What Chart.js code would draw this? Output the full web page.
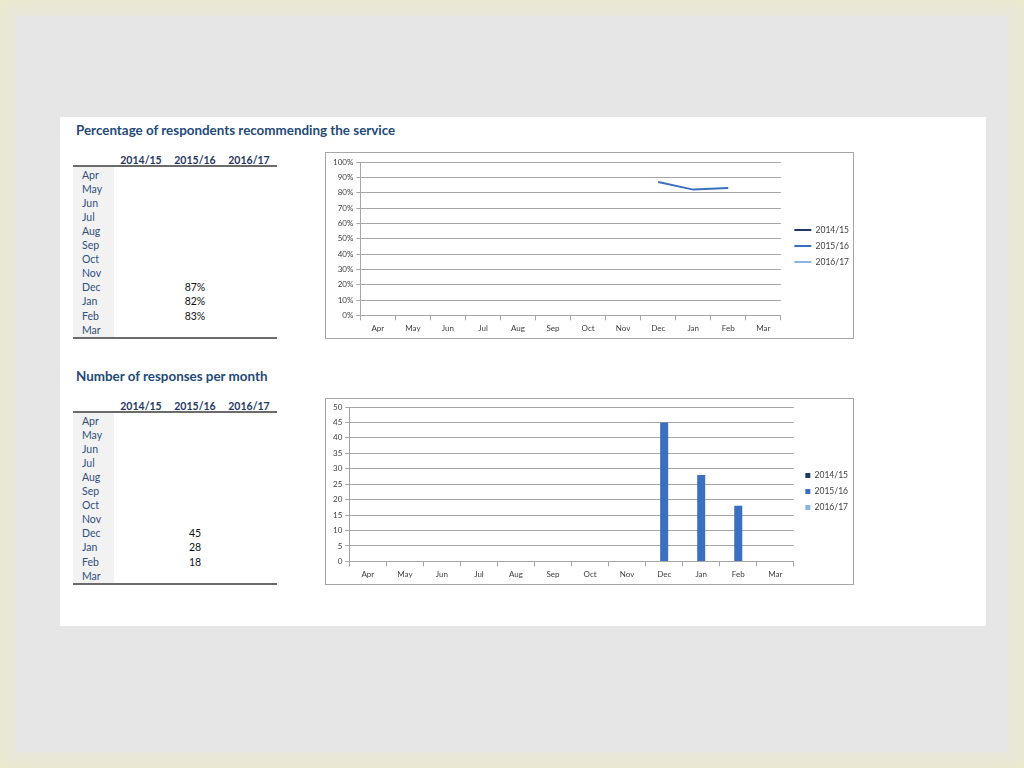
<!DOCTYPE html>
<html>
<head>
<meta charset="utf-8">
<script src="https://cdn.jsdelivr.net/npm/chart.js@4/dist/chart.umd.min.js"></script>
<style>
	body { margin: 0; width: 1024px; height: 768px; overflow: hidden; position: relative; background: #ece9cd; font-family: Lato, "Open Sans", sans-serif; }
	#bg { position: absolute; left: 16px; top: 16px; right: 16px; bottom: 16px; background: #e6e6e6; box-shadow: 0 0 18px 12px #e8e7dc; }
	#panel { position: absolute; left: 60px; top: 117px; width: 926px; height: 509px; background: #fff; }
	.title { position: absolute; left: 76px; font-weight: bold; font-size: 13.4px; color: #244a7a; line-height: 16px; }
	.txt { position: absolute; font-size: 10.5px; line-height: 14px; white-space: nowrap; }
	.hdr { font-weight: bold; color: #1f3864; width: 54px; text-align: center; }
	.mon { color: #2f4f7f; }
	.val { color: #111; width: 54px; text-align: center; }
	.rule { position: absolute; left: 73px; width: 204px; height: 2px; background: #6b6b6b; }
	.shade { position: absolute; left: 73px; width: 41px; background: #f2f2f2; }
	.box { position: absolute; left: 325px; width: 529px; height: 187px; border: 1px solid #a6a6a6; box-sizing: border-box; background: #fff; }
</style>
</head>
<body>
<div id="bg"></div>
<div id="panel"></div>
<div class="title" style="top: 122px;">Percentage of respondents recommending the service</div>
<div class="title" style="top: 368px;">Number of responses per month</div>
<div id="tables"></div>
<div class="box" style="top: 152px;"><canvas id="pctChart"></canvas></div>
<div class="box" style="top: 398px;"><canvas id="respChart"></canvas></div>
<script type="text/javascript">
	var months = ['Apr', 'May', 'Jun', 'Jul', 'Aug', 'Sep', 'Oct', 'Nov', 'Dec', 'Jan', 'Feb', 'Mar'];
	var years = ['2014/15', '2015/16', '2016/17'];

	// percentage recommending
	var pct1415 = [null, null, null, null, null, null, null, null, null, null, null, null];
	var pct1516 = [null, null, null, null, null, null, null, null, 87, 82, 83, null];
	var pct1617 = [null, null, null, null, null, null, null, null, null, null, null, null];

	// responses per month
	var resp1415 = [null, null, null, null, null, null, null, null, null, null, null, null];
	var resp1516 = [null, null, null, null, null, null, null, null, 45, 28, 18, null];
	var resp1617 = [null, null, null, null, null, null, null, null, null, null, null, null];

	var pctTicks = [0, 10, 20, 30, 40, 50, 60, 70, 80, 90, 100];
	var respTicks = [0, 5, 10, 15, 20, 25, 30, 35, 40, 45, 50];

	var colors = { y1415: '#1f3864', y1516: '#3b6fc0', y1617: '#8db3e2' };

	function makeTable(top, series, suffix) {
		var host = document.getElementById('tables');
		var html = '';
		var headY = top;
		var ruleY = headY + 5;
		var rowStep = 14.1;
		var firstRow = ruleY + 9.5;
		var bottomY = firstRow + rowStep * 11 + 7.5;
		html += '<div class="rule" style="top:' + ruleY + 'px"></div>';
		html += '<div class="shade" style="top:' + (ruleY + 2) + 'px;height:' + (bottomY - ruleY - 2) + 'px"></div>';
		html += '<div class="rule" style="top:' + bottomY + 'px"></div>';
		for (var c = 0; c < years.length; c++) {
			html += '<div class="txt hdr" style="left:' + (114 + c * 54) + 'px;top:' + (headY - 7) + 'px">' + years[c] + '</div>';
		}
		for (var r = 0; r < months.length; r++) {
			var y = firstRow + r * rowStep - 7;
			html += '<div class="txt mon" style="left:82px;top:' + y + 'px">' + months[r] + '</div>';
			for (var s = 0; s < series.length; s++) {
				if (series[s][r] !== null) {
					html += '<div class="txt val" style="left:' + (114 + s * 54) + 'px;top:' + y + 'px">' + series[s][r] + suffix + '</div>';
				}
			}
		}
		host.innerHTML += html;
	}

	makeTable(160, [pct1415, pct1516, pct1617], '%');
	makeTable(406, [resp1415, resp1516, resp1617], '');

	var tickFont = { family: 'Lato, "Open Sans", sans-serif', size: 8 };
	var legendFont = { family: 'Lato, "Open Sans", sans-serif', size: 8.5 };
	var gridColor = '#a6a6a6';

	// nudge the legend a little away from the plot, like the spreadsheet does
	function legendNudge(dx, dy) {
		return {
			id: 'legendNudge',
			afterLayout: function(chart) {
				chart.legend.left += dx;
				chart.legend.right += dx;
				chart.legend.top += dy;
				chart.legend.bottom += dy;
			}
		};
	}

	new Chart(document.getElementById('pctChart'), {
		type: 'line',
		data: {
			labels: months,
			datasets: [
				{ label: years[0], data: pct1415, borderColor: colors.y1415, backgroundColor: colors.y1415, borderWidth: 2, pointRadius: 0 },
				{ label: years[1], data: pct1516, borderColor: colors.y1516, backgroundColor: colors.y1516, borderWidth: 2, pointRadius: 0 },
				{ label: years[2], data: pct1617, borderColor: colors.y1617, backgroundColor: colors.y1617, borderWidth: 2, pointRadius: 0 }
			]
		},
		options: {
			responsive: true,
			maintainAspectRatio: false,
			animation: false,
			layout: { padding: { left: 4, right: 0, top: 9, bottom: 2 } },
			plugins: {
				legend: {
					position: 'right',
					labels: { usePointStyle: true, pointStyle: 'line', pointStyleWidth: 17, boxHeight: 9, padding: 7.5, color: '#404040', font: legendFont }
				},
				tooltip: { enabled: false }
			},
			scales: {
				x: {
					offset: true,
					grid: { offset: true, drawOnChartArea: false, tickLength: 5, color: gridColor },
					border: { color: gridColor },
					ticks: { font: tickFont, color: '#404040', maxRotation: 0, autoSkip: false, padding: 3 }
				},
				y: {
					min: 0,
					max: 100,
					afterBuildTicks: function(axis) { axis.ticks = pctTicks.map(function(v) { return { value: v }; }); },
					grid: { color: gridColor, tickLength: 4 },
					border: { color: gridColor },
					ticks: { font: tickFont, color: '#404040', padding: 3, callback: function(v) { return v + '%'; } }
				}
			}
		},
		plugins: [legendNudge(6, -3)]
	});

	new Chart(document.getElementById('respChart'), {
		type: 'bar',
		data: {
			labels: months,
			datasets: [
				{ label: years[0], data: resp1415, backgroundColor: colors.y1415 },
				{ label: years[1], data: resp1516, backgroundColor: colors.y1516 },
				{ label: years[2], data: resp1617, backgroundColor: colors.y1617 }
			]
		},
		options: {
			responsive: true,
			maintainAspectRatio: false,
			animation: false,
			datasets: { bar: { categoryPercentage: 0.65, barPercentage: 1.0 } },
			layout: { padding: { left: 4, right: -1, top: 8, bottom: 2 } },
			plugins: {
				legend: {
					position: 'right',
					labels: { boxWidth: 5, boxHeight: 5, padding: 7.5, color: '#404040', font: legendFont }
				},
				tooltip: { enabled: false }
			},
			scales: {
				x: {
					grid: { offset: true, drawOnChartArea: false, tickLength: 5, color: gridColor },
					border: { color: gridColor },
					ticks: { font: tickFont, color: '#404040', maxRotation: 0, autoSkip: false, padding: 3 }
				},
				y: {
					min: 0,
					max: 50,
					afterBuildTicks: function(axis) { axis.ticks = respTicks.map(function(v) { return { value: v }; }); },
					grid: { color: gridColor, tickLength: 4 },
					border: { color: gridColor },
					ticks: { font: tickFont, color: '#404040', padding: 3 }
				}
			}
		},
		plugins: [legendNudge(4, -3)]
	});
</script>
</body>
</html>
